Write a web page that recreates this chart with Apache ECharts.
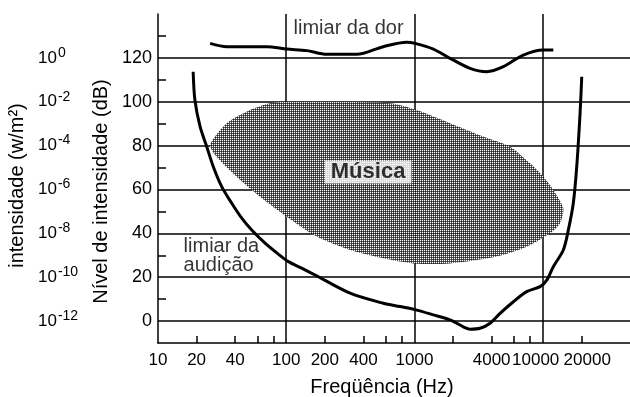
<!DOCTYPE html>
<html><head><meta charset="utf-8">
<script src="https://cdn.jsdelivr.net/npm/echarts@6/dist/echarts.min.js"></script>
<style>html,body{margin:0;padding:0;background:#fff}#c{width:630px;height:397px}</style>
</head><body><div id="c"></div>
<script>
// ---- data ----
const freqTickLabels = [10, 20, 40, 100, 200, 400, 1000, 4000, 10000, 20000];
const freqMinorTicks = [20, 40, 60, 80, 200, 400, 600, 800, 2000, 4000, 6000, 8000, 20000];
const freqGridLines = [100, 1000, 10000];
const dbTickLabels = [0, 20, 40, 60, 80, 100, 120];
const dbMinorTicks = [10, 30, 50, 70, 90, 110, 130];
const intensityExponents = [-12, -10, -8, -6, -4, -2, 0];

const hearingFreq = [18.8, 19.4, 21.3, 24.0, 27.0, 31.4, 37.6, 45.0, 53.8, 68.4, 86.8, 104, 132, 168, 315, 572, 773, 1042, 1404, 1895, 2406, 2716, 3250, 3890, 4656, 5908, 7510, 9550, 10770, 12110, 14490, 15860, 17340, 18440, 19580, 20180];
const hearingDb   = [113.7, 100.8, 88.6, 79.5, 70.4, 61.3, 53.7, 46.9, 41.5, 35.5, 30.5, 27.1, 24.1, 21.0, 12.7, 8.1, 6.6, 5.0, 2.8, 0.5, -2.6, -3.7, -3.3, -1.0, 3.5, 8.8, 13.4, 15.7, 18.7, 24.8, 32.4, 41.5, 53.7, 70.4, 94.7, 111.4];

const painFreq = [25.5, 34.4, 70.5, 101, 144.5, 207, 355, 571, 871, 1011, 1404, 1895, 2716, 3664, 4937, 7063, 10120, 12110];
const painDb   = [126.6, 125.1, 125.1, 124.0, 123.3, 121.6, 121.6, 125.1, 127.1, 126.6, 124.0, 119.8, 115.2, 113.7, 116.0, 121.3, 123.6, 123.6];

const musicFreq = [25.5, 34.4, 52.2, 74.8, 101, 646, 1042, 1895, 3444, 5569, 7980, 10120, 12110, 14490, 13670, 11420, 7510, 4385, 1895, 980, 572, 315, 173, 101, 62.5, 41.1, 28.7];
const musicDb   = [80.3, 90.2, 96.2, 99.3, 100.0, 99.3, 96.2, 90.2, 84.1, 79.5, 71.9, 65.8, 59.8, 51.4, 44.6, 40.0, 33.9, 29.4, 26.3, 26.3, 28.6, 32.4, 38.5, 47.6, 56.7, 65.8, 74.9];

const annotationText = ['limiar da dor', 'limiar da\naudição', 'Música'];
const annotationFreq = [113, 15.7, 435];
const annotationDb   = [133.2, 29.8, 68];

// ---- chart ----
const FONT = '"Liberation Sans", Arial, sans-serif';
const pc = document.createElement('canvas');
pc.width = 2; pc.height = 2;
const g = pc.getContext('2d');
g.fillStyle = '#ffffff'; g.fillRect(0, 0, 1, 1);
g.fillStyle = '#5a5a5a'; g.fillRect(1, 0, 1, 1); g.fillRect(0, 1, 1, 1);
g.fillStyle = 'rgba(0,0,0,0.85)'; g.fillRect(1, 1, 1, 1);
const musicPattern = { image: pc, repeat: 'repeat' };

const black = '#000';
const annotationStyles = [
  { position: 'right', distance: 0, fontSize: 20 },
  { position: 'right', distance: 0, fontSize: 20, lineHeight: 19 },
  { position: 'inside', fontSize: 22, fontWeight: 'bold', backgroundColor: '#fff', padding: [1, 6, 0, 6] }
];

const chart = echarts.init(document.getElementById('c'), null, { renderer: 'canvas' });
chart.setOption({
  animation: false,
  backgroundColor: '#fff',
  textStyle: { fontFamily: FONT, color: black },
  grid: { left: 158, top: 14, right: 0, bottom: 54, containLabel: false, outerBoundsMode: 'none' },
  xAxis: [
    {
      type: 'log', logBase: 10, min: 10, max: 48000, position: 'bottom',
      name: 'Freqüência (Hz)', nameLocation: 'middle', nameGap: 34,
      nameTextStyle: { fontSize: 20, color: black, fontFamily: FONT, padding: [0, 24, 0, 0] },
      axisLine: { show: true, onZero: false, lineStyle: { color: black, width: 1.5 } },
      axisTick: { show: true, inside: true, length: 7, customValues: freqMinorTicks, lineStyle: { color: black, width: 1.5 } },
      axisLabel: {
        customValues: freqTickLabels, margin: 9, fontSize: 17, color: black, fontFamily: FONT,
        formatter: v => {
          const n = Math.round(v), s = String(n);
          if (n === 10000) return '{l|' + s + '}';
          if (n === 20000) return '{r|' + s + '}';
          return s;
        },
        rich: { l: { fontSize: 17, color: black, padding: [0, 14, 0, 0] }, r: { fontSize: 17, color: black, padding: [0, 0, 0, 12] } }
      },
      splitLine: { show: false }
    },
    {
      type: 'log', logBase: 10, min: 10, max: 48000, position: 'bottom',
      axisLine: { show: false }, axisLabel: { show: false },
      axisTick: { show: false, customValues: freqGridLines },
      splitLine: { show: true, lineStyle: { color: black, width: 1.5 } }
    }
  ],
  yAxis: [
    {
      type: 'value', min: -10, max: 140, position: 'left',
      name: 'Nível de intensidade (dB)', nameLocation: 'middle', nameGap: 38,
      nameTextStyle: { fontSize: 20, color: black, fontFamily: FONT, padding: [0, 26, 0, 0] },
      axisLine: { show: true, onZero: false, lineStyle: { color: black, width: 1.5 } },
      axisTick: { show: true, inside: true, length: 8, customValues: dbMinorTicks, lineStyle: { color: black, width: 1.5 } },
      axisLabel: { customValues: dbTickLabels, margin: 6, fontSize: 18, color: black, fontFamily: FONT },
      splitLine: { show: false }
    },
    {
      type: 'value', min: -10, max: 140, position: 'left',
      name: 'intensidade (w/m²)', nameLocation: 'middle', nameGap: 120,
      nameTextStyle: { fontSize: 20, color: black, fontFamily: FONT, padding: [0, 14, 0, 0] },
      axisLine: { show: false }, axisTick: { show: false },
      axisLabel: {
        customValues: dbTickLabels, align: 'left', margin: 120, color: black, fontFamily: FONT,
        formatter: v => '{b|10}{s|' + intensityExponents[dbTickLabels.indexOf(Math.round(v))] + '}',
        rich: { b: { fontSize: 17, fontFamily: FONT, color: black }, s: { fontSize: 14, fontFamily: FONT, color: black, padding: [0, 0, 10, 1] } }
      },
      splitLine: { show: false }
    },
    {
      type: 'value', min: -10, max: 140, position: 'left',
      axisLine: { show: false }, axisLabel: { show: false },
      axisTick: { show: false, customValues: dbTickLabels },
      splitLine: { show: true, lineStyle: { color: black, width: 1.5 } }
    }
  ],
  series: [
    {
      type: 'custom', name: 'Música', xAxisIndex: 0, yAxisIndex: 0, z: 2,
      data: musicFreq.map((f, i) => [f, musicDb[i]]),
      renderItem: (params, api) => {
        if (params.dataIndex !== 0) return null;
        const pts = musicFreq.map((f, i) => api.coord([f, musicDb[i]]));
        return { type: 'polygon', shape: { points: pts, smooth: 0.25 }, style: { fill: musicPattern } };
      }
    },
    {
      type: 'line', name: 'limiar da audição', xAxisIndex: 0, yAxisIndex: 0, z: 3,
      data: hearingFreq.map((f, i) => [f, hearingDb[i]]),
      smooth: 0.3, symbol: 'none', lineStyle: { color: black, width: 3 }
    },
    {
      type: 'line', name: 'limiar da dor', xAxisIndex: 0, yAxisIndex: 0, z: 3,
      data: painFreq.map((f, i) => [f, painDb[i]]),
      smooth: 0.3, symbol: 'none', lineStyle: { color: black, width: 3 }
    },
    {
      type: 'scatter', name: 'anotações', xAxisIndex: 0, yAxisIndex: 0, z: 5,
      symbolSize: 1, itemStyle: { color: 'rgba(0,0,0,0)' }, silent: true,
      data: annotationText.map((t, i) => ({
        value: [annotationFreq[i], annotationDb[i]], name: t,
        label: Object.assign({ show: true, formatter: t, color: black, fontFamily: FONT }, annotationStyles[i])
      }))
    }
  ]
});
</script>
</body></html>
